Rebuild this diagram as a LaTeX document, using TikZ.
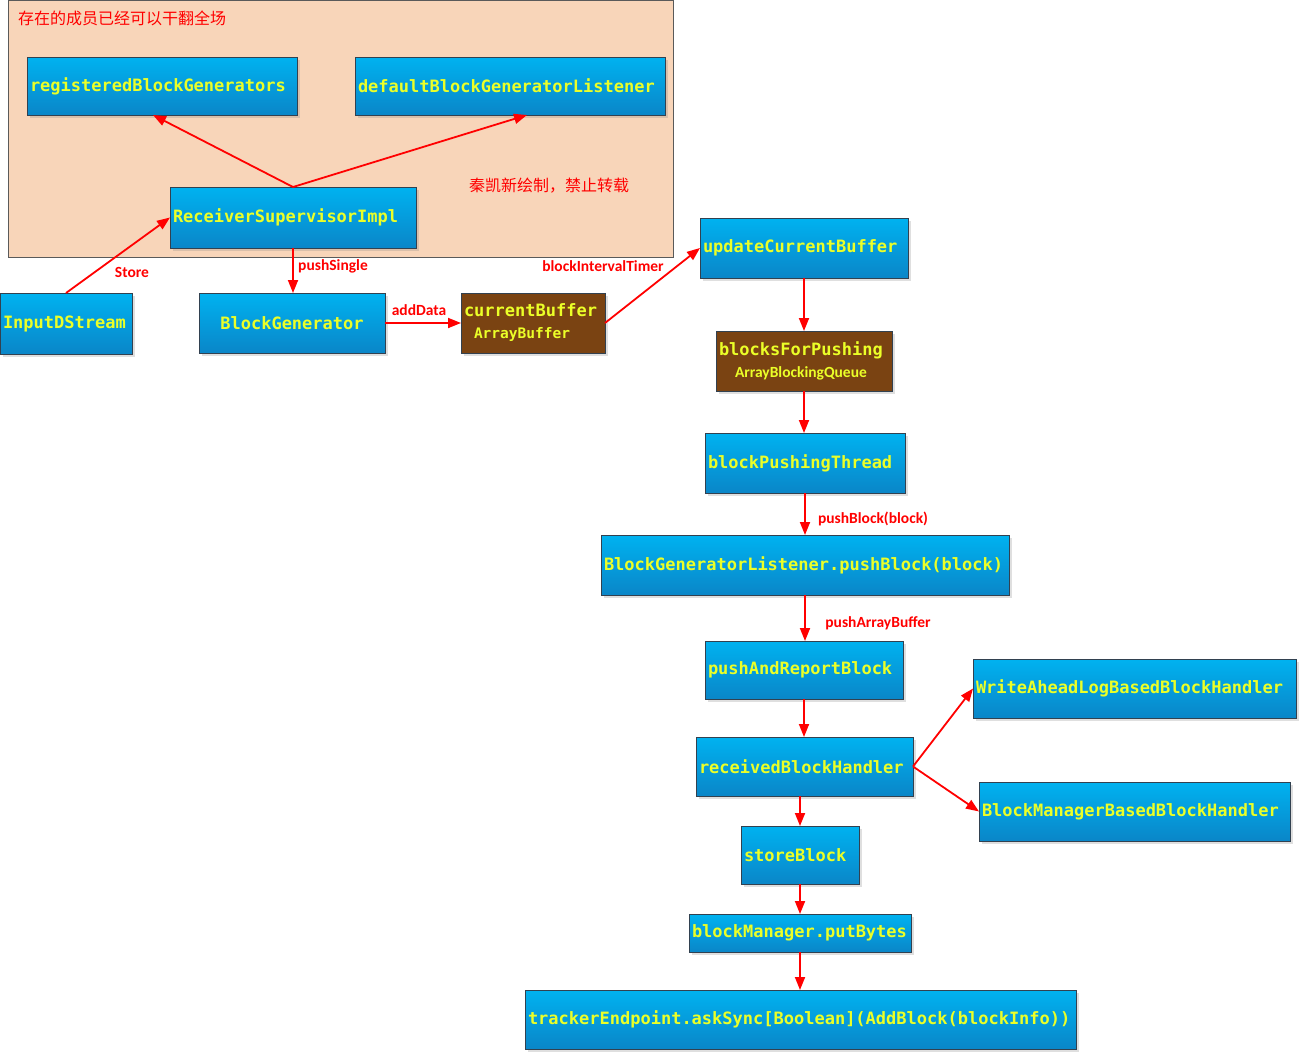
\documentclass[tikz,border=0pt]{standalone}
\usepackage{fontspec}
\setmonofont{DejaVu Sans Mono}
\newfontfamily\lblfont{Carlito}
\newfontfamily\cjk{Noto Sans CJK SC}
\usetikzlibrary{arrows.meta,shadows,calc}
\definecolor{boxtop}{RGB}{0,178,240}
\definecolor{boxbot}{RGB}{10,134,200}
\definecolor{boxline}{RGB}{50,65,80}
\definecolor{txtyel}{RGB}{235,255,40}
\definecolor{brownfill}{RGB}{122,67,18}
\definecolor{peach}{RGB}{248,213,185}
\definecolor{grpline}{RGB}{90,90,90}
\definecolor{arrred}{RGB}{255,0,0}
\tikzset{
 boxbase/.style={draw=boxline, line width=0.8pt, inner xsep=3pt, inner ysep=0pt, outer sep=0pt,
   anchor=north west, font=\fontsize{17}{20}\selectfont\ttfamily\bfseries, text=txtyel, align=left,
   drop shadow={shadow xshift=2.5pt, shadow yshift=-2.5pt, opacity=0.25}},
 bluebox/.style={boxbase, top color=boxtop, bottom color=boxbot},
 brownbox/.style={boxbase, fill=brownfill},
 flow/.style={draw=arrred, line width=1.8pt, -{Triangle[length=13pt,width=10pt]}},
 lbl/.style={text=arrred, font=\lblfont\bfseries\fontsize{15.5}{17}\selectfont, inner sep=0pt},
 cjklbl/.style={text=arrred, font=\cjk\fontsize{16}{18}\selectfont, inner sep=0pt, anchor=west},
}
\newcommand\blk[7][bluebox]{%
 \pgfmathsetmacro\bw{#5-#3}\pgfmathsetmacro\bh{#6-#4}\pgfmathsetmacro\tw{#5-#3-6}%
 \node[#1, minimum width=\bw pt, minimum height=\bh pt, text width=\tw pt] (#2) at (#3,#4) {#7};}
\begin{document}
\begin{tikzpicture}[x=1pt,y=-1pt]
\useasboundingbox (0,0) rectangle (1299,1052);
% container
\node[draw=grpline, line width=0.8pt, fill=peach, anchor=north west, minimum width=665pt,
  minimum height=257pt, inner sep=0pt, outer sep=0pt] (grp) at (8,0) {};
\node[cjklbl] (t1) at (18,18) {存在的成员已经可以干翻全场};
\node[cjklbl] (t2) at (469,186) {秦凯新绘制，禁止转载};
% boxes
\blk{reg}{27}{57}{297}{115}{registeredBlockGenerators}
\blk{dgl}{355}{57}{665}{115}{defaultBlockGeneratorListener}
\blk{rsi}{170}{187}{416}{248}{ReceiverSupervisorImpl}
\blk{ids}{0}{293}{132}{354}{InputDStream}
\blk[bluebox,align=center]{bg}{199}{293}{385}{353}{BlockGenerator}
\blk[brownbox]{cb}{461}{293}{605}{353}{currentBuffer\\[2pt]\hspace*{10pt}{\fontsize{14.5}{16}\selectfont ArrayBuffer}}
\blk{ucb}{700}{218}{908}{278}{updateCurrentBuffer}
\blk[brownbox]{bfp}{716}{331}{892}{391}{blocksForPushing\\[2pt]\hspace*{16pt}{\lblfont\bfseries\fontsize{15.5}{17}\selectfont ArrayBlockingQueue}}
\blk{bpt}{705}{433}{905}{493}{blockPushingThread}
\blk{bgl}{601}{535}{1009}{595}{BlockGeneratorListener.pushBlock(block)}
\blk{parb}{705}{641}{903}{699}{pushAndReportBlock}
\blk{rbh}{696}{737}{913}{796}{receivedBlockHandler}
\blk{wal}{973}{659}{1296}{718}{WriteAheadLogBasedBlockHandler}
\blk{bmb}{979}{782}{1290}{841}{BlockManagerBasedBlockHandler}
\blk{sb}{741}{826}{859}{884}{storeBlock}
\blk{pb}{689}{914}{911}{952}{blockManager.putBytes}
\blk{te}{525}{990}{1076}{1049}{trackerEndpoint.askSync[Boolean](AddBlock(blockInfo))}
% connectors
\draw[flow] (rsi.north) -- ($(reg.south)+(-9,0)$);
\draw[flow] (rsi.north) -- ($(dgl.south)+(17,0)$);
\draw[flow] (ids.north) -- (rsi.west);
\draw[flow] (rsi.south) -- (rsi.south |- bg.north);
\draw[flow] (bg.east) -- (cb.west);
\draw[flow] (cb.east) -- (ucb.west);
\draw[flow] (ucb.south) -- (ucb.south |- bfp.north);
\draw[flow] (bfp.south) -- (bfp.south |- bpt.north);
\draw[flow] (bpt.south) -- (bpt.south |- bgl.north);
\draw[flow] (bgl.south) -- (bgl.south |- parb.north);
\draw[flow] (parb.south) -- (parb.south |- rbh.north);
\draw[flow] (rbh.east) -- (wal.west);
\draw[flow] (rbh.east) -- (bmb.west);
\draw[flow] (sb.north |- rbh.south) -- (sb.north);
\draw[flow] (sb.south) -- (sb.south |- pb.north);
\draw[flow] (pb.south) -- (pb.south |- te.north);
% labels
\node[lbl] (l1) at (132,272) {Store};
\node[lbl] (l2) at (333,266) {pushSingle};
\node[lbl] (l3) at (419,310) {addData};
\node[lbl] (l4) at (603,266) {blockIntervalTimer};
\node[lbl] (l5) at (873,519) {pushBlock(block)};
\node[lbl] (l6) at (878,623) {pushArrayBuffer};
\end{tikzpicture}
\end{document}
